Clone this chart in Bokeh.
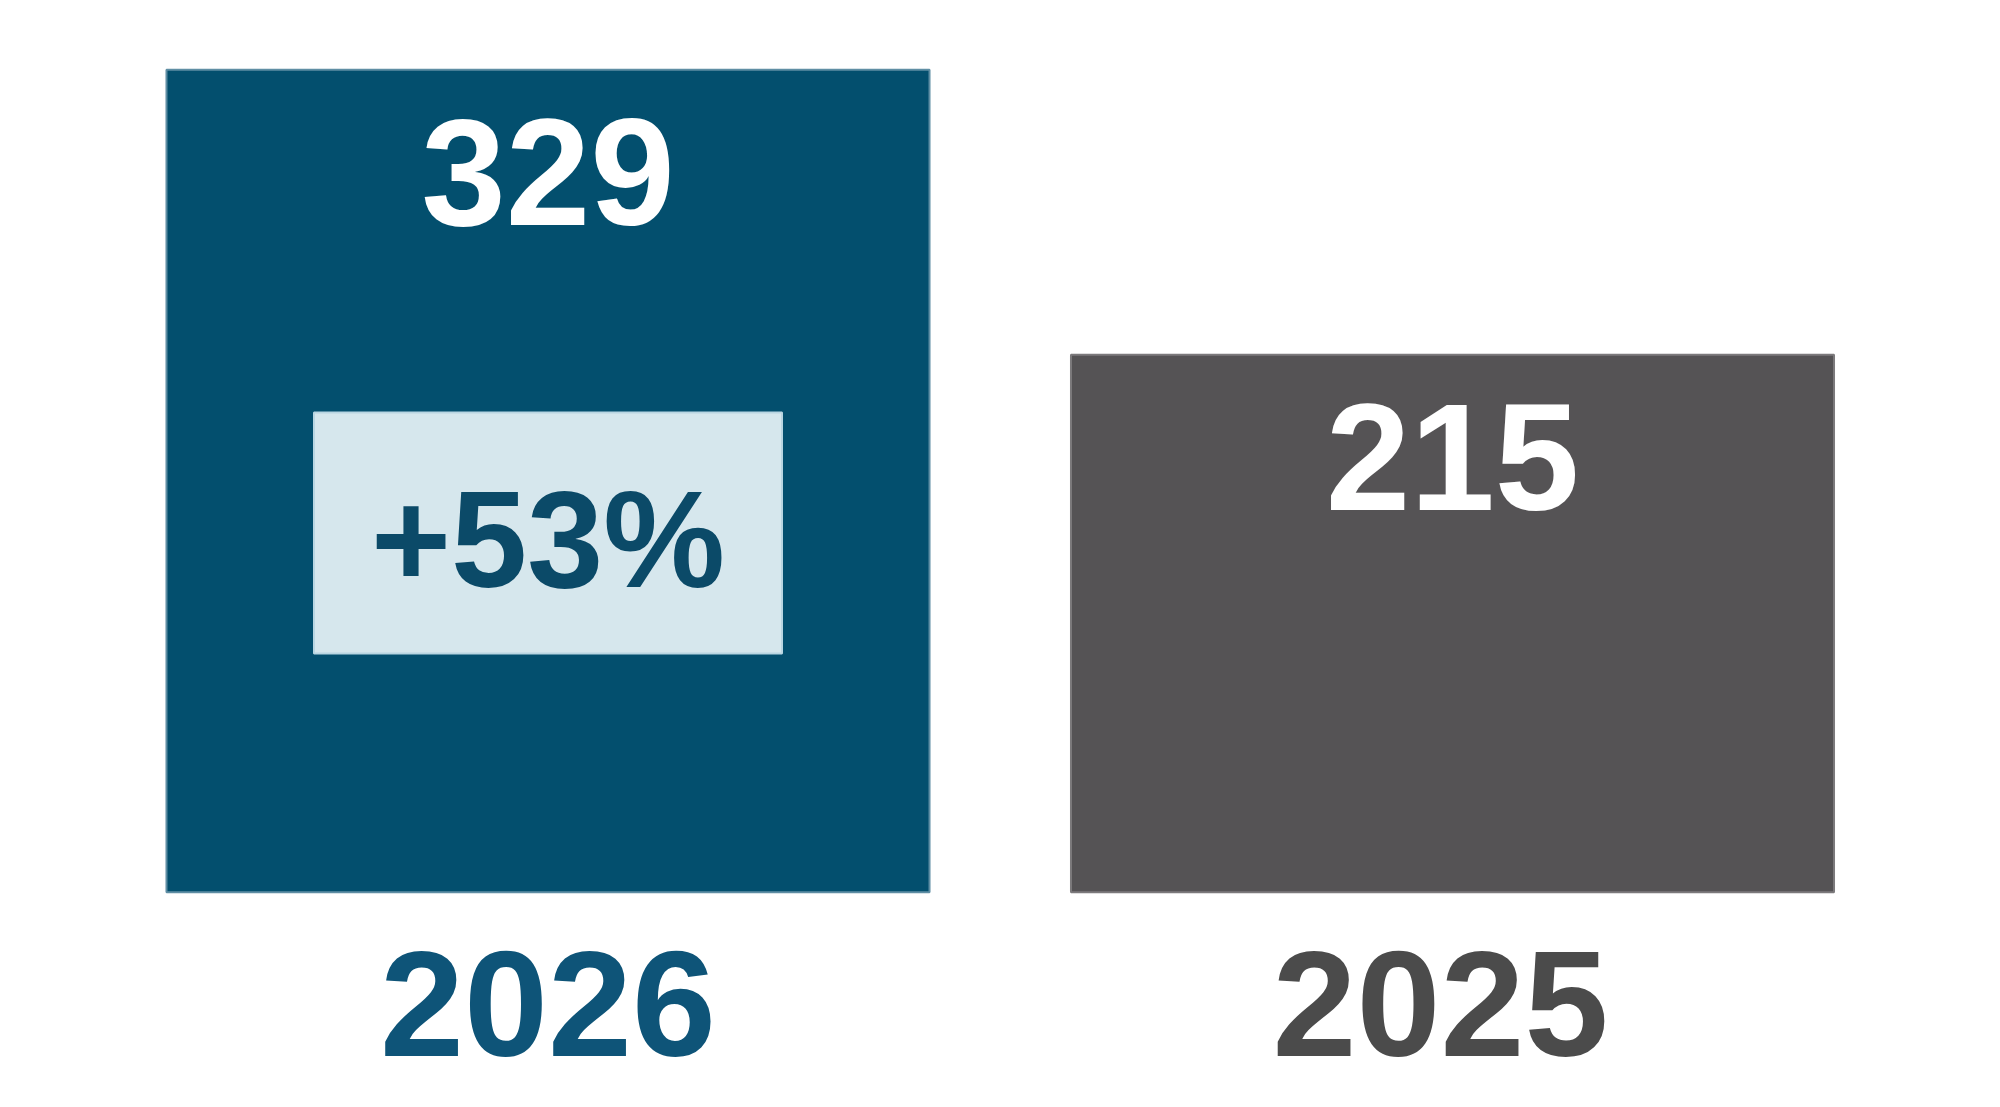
from bokeh.plotting import figure
from bokeh.models import Range1d, ColumnDataSource
from bokeh.core.properties import value
from bokeh.embed import file_html
from bokeh.resources import INLINE

# ---- data ----
years = ["2026", "2025"]
counts = [329, 215]
bar_colors = ["#034f6e", "#555355"]
edge_colors = ["#5f8ea4", "#7c7a7c"]
label_colors = ["#0e5478", "#4b4b4b"]

change_pct = round((counts[0] - counts[1]) / counts[1] * 100)
change_label = f"+{change_pct}%"

FONT = value("Liberation Sans")

# ---- layout ----
W, H = 1984, 1091
PX_PER_CAT = 904.5
PX_PER_UNIT = 2.5
ZERO_PX = 891.7
FIRST_CENTER_PX = 547.5
label_nudge = [0, -12]

x0 = -FIRST_CENTER_PX / PX_PER_CAT
y1 = ZERO_PX / PX_PER_UNIT
p = figure(width=W, height=H, output_backend="svg", toolbar_location=None,
           x_range=Range1d(x0, x0 + W / PX_PER_CAT),
           y_range=Range1d(y1 - H / PX_PER_UNIT, y1),
           min_border=0, outline_line_color=None)
p.axis.visible = False
p.grid.visible = False
p.background_fill_color = "white"
p.border_fill_color = "white"

xs = list(range(len(years)))
src = ColumnDataSource(dict(x=xs, year=years, count=counts,
                            bar_color=bar_colors, edge_color=edge_colors,
                            label_color=label_colors, nudge=label_nudge,
                            count_txt=[str(c) for c in counts]))

p.vbar(x="x", top="count", bottom=0, width=0.8436, source=src,
       fill_color="bar_color", line_color="edge_color", line_width=2)

# value labels inside the bar top
p.text(x="x", y="count", text="count_txt", source=src,
       text_font=FONT, text_font_style="bold", text_font_size="152px",
       text_color="white", text_align="center", text_baseline="alphabetic",
       y_offset=103)

# year labels below the bars
p.text(x="x", y=0, text="year", source=src, x_offset="nudge",
       text_font=FONT, text_font_style="bold", text_font_size="151px",
       text_color="label_color", text_align="center", text_baseline="alphabetic",
       y_offset=112)

# change badge on the first bar
badge_y = counts[0] * 0.4367
p.rect(x=[xs[0]], y=[badge_y], width=468, height=241,
       width_units="screen", height_units="screen",
       fill_color="#d6e7ed", line_color="#b9d6e2", line_width=2)
p.text(x=[xs[0]], y=[badge_y], text=[change_label],
       text_font=FONT, text_font_style="bold", text_font_size="137px",
       text_color="#0b4a68", text_align="center", text_baseline="alphabetic",
       y_offset=6)

open("out.html", "w").write(file_html(p, INLINE))
